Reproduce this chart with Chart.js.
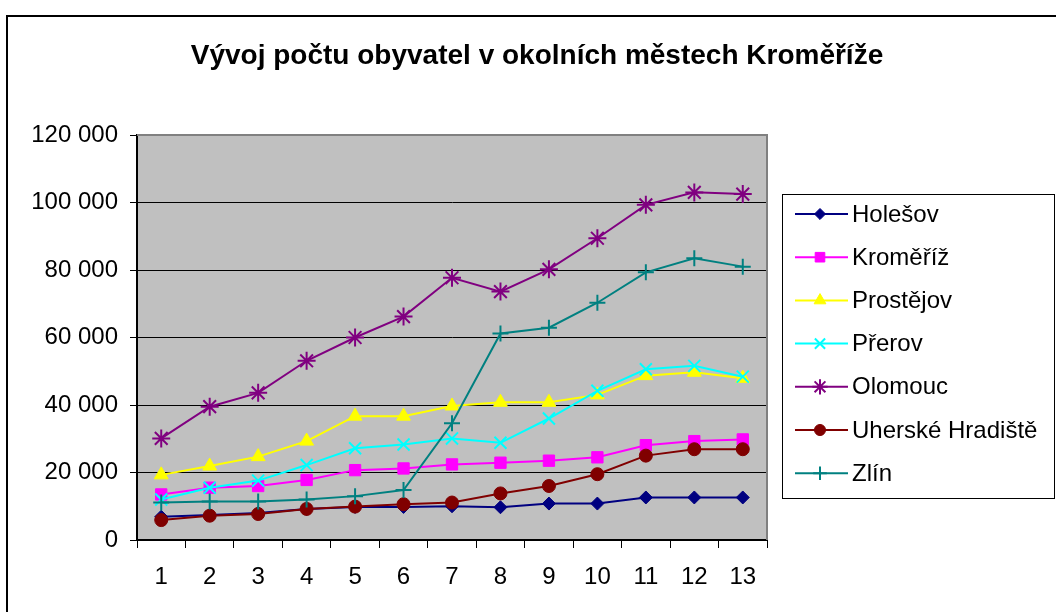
<!DOCTYPE html>
<html>
<head>
<meta charset="utf-8">
<script src="https://cdn.jsdelivr.net/npm/chart.js@4/dist/chart.umd.min.js"></script>
<style>
  html, body { margin: 0; padding: 0; background: #ffffff; }
  #wrap { width: 1056px; height: 612px; position: relative; }
</style>
</head>
<body>
<div id="wrap"><canvas id="c" width="1056" height="612"></canvas></div>
<script>
const titleText = 'Vývoj počtu obyvatel v okolních městech Kroměříže';
const categories = ['1','2','3','4','5','6','7','8','9','10','11','12','13'];
const yTickLabels = ['0','20 000','40 000','60 000','80 000','100 000','120 000'];

const seriesNames = ['Holešov','Kroměříž','Prostějov','Přerov','Olomouc','Uherské Hradiště','Zlín'];
const holesov    = [6900, 7400, 8000, 9200, 9800, 9800, 10000, 9700, 10800, 10800, 12600, 12600, 12600];
const kromeriz   = [13500, 15500, 16000, 17800, 20700, 21200, 22400, 22900, 23500, 24500, 28100, 29300, 29800];
const prostejov  = [19300, 21900, 24700, 29300, 36700, 36700, 39700, 40800, 40800, 43000, 48700, 49700, 47900];
const prerov     = [12000, 15500, 17600, 22200, 27200, 28300, 30100, 28800, 36000, 44200, 50600, 51600, 48400];
const olomouc    = [30100, 39500, 43600, 53100, 60000, 66200, 77700, 73600, 80200, 89400, 99300, 103000, 102500];
const uhHradiste = [5900, 7200, 7700, 9200, 9900, 10600, 11100, 13800, 16000, 19500, 25000, 26900, 26900];
const zlin       = [11100, 11400, 11400, 12000, 13000, 14800, 34600, 61200, 62900, 70300, 79300, 83500, 81000];

const seriesData = [holesov, kromeriz, prostejov, prerov, olomouc, uhHradiste, zlin];
const colors = ['#000080', '#FF00FF', '#FFFF00', '#00FFFF', '#800080', '#800000', '#008080'];
const styles = ['rectRot', 'rect', 'triangle', 'crossRot', 'star', 'circle', 'cross'];
const radii  = [6.5, 8, 8, 8.5, 9, 6.5, 8];
const bws    = [1, 1, 1, 2, 2, 1, 2];

const FONT = '"Liberation Sans", Arial, sans-serif';

const datasets = seriesNames.map((name, i) => ({
  label: name,
  data: seriesData[i],
  borderColor: colors[i],
  backgroundColor: colors[i],
  borderWidth: 2,
  pointStyle: styles[i],
  pointRadius: radii[i],
  pointHoverRadius: radii[i],
  pointBorderWidth: bws[i],
  pointBackgroundColor: colors[i],
  pointBorderColor: colors[i],
  tension: 0,
  order: seriesNames.length - i
}));

const decorPlugin = {
  id: 'decor',
  beforeDraw(chart) {
    const ctx = chart.ctx;
    const a = chart.chartArea;
    ctx.save();
    ctx.fillStyle = '#ffffff';
    ctx.fillRect(0, 0, chart.width, chart.height);
    ctx.fillStyle = '#C0C0C0';
    ctx.fillRect(a.left, a.top, a.right - a.left, a.bottom - a.top);
    ctx.restore();
  },
  afterDraw(chart) {
    const ctx = chart.ctx;
    const a = chart.chartArea;
    ctx.save();
    ctx.strokeStyle = '#808080';
    ctx.lineWidth = 2;
    ctx.beginPath();
    ctx.moveTo(a.left, a.top);
    ctx.lineTo(a.right, a.top);
    ctx.lineTo(a.right, a.bottom);
    ctx.stroke();
    ctx.strokeStyle = '#000000';
    ctx.lineWidth = 2;
    ctx.beginPath();
    ctx.moveTo(7, 700);
    ctx.lineTo(7, 16);
    ctx.lineTo(1100, 16);
    ctx.stroke();
    ctx.fillStyle = '#000000';
    ctx.font = 'bold 28px ' + FONT;
    ctx.textAlign = 'center';
    ctx.textBaseline = 'alphabetic';
    ctx.fillText(titleText, 537, 64);
    const lx = 782, ly = 194, lw = 272, lh = 304;
    ctx.fillStyle = '#ffffff';
    ctx.fillRect(lx, ly, lw, lh);
    ctx.strokeStyle = '#000000';
    ctx.lineWidth = 1;
    ctx.strokeRect(lx + 0.5, ly + 0.5, lw, lh);
    ctx.font = '24px ' + FONT;
    ctx.textAlign = 'left';
    ctx.textBaseline = 'middle';
    chart.data.datasets.forEach((ds, i) => {
      const y = 214 + i * 43.2;
      ctx.strokeStyle = ds.borderColor;
      ctx.lineWidth = 2;
      ctx.beginPath();
      ctx.moveTo(795, y);
      ctx.lineTo(848, y);
      ctx.stroke();
      ctx.fillStyle = ds.pointBackgroundColor;
      ctx.strokeStyle = ds.pointBorderColor;
      ctx.lineWidth = ds.pointBorderWidth;
      Chart.helpers.drawPoint(ctx, {
        pointStyle: ds.pointStyle,
        radius: ds.pointRadius * 0.85,
        rotation: 0,
        borderWidth: ds.pointBorderWidth
      }, 820, y);
      ctx.fillStyle = '#000000';
      ctx.fillText(ds.label, 852, y + 1);
    });
    ctx.restore();
  }
};

new Chart(document.getElementById('c'), {
  type: 'line',
  data: { labels: categories, datasets: datasets },
  options: {
    responsive: false,
    animation: false,
    devicePixelRatio: 1,
    layout: { padding: { left: 0, top: 135, right: 289, bottom: 0 } },
    plugins: {
      legend: { display: false },
      title: { display: false },
      tooltip: { enabled: false }
    },
    scales: {
      x: {
        type: 'category',
        offset: true,
        afterFit(s) { s.height = 72; },
        grid: {
          display: true,
          offset: true,
          drawOnChartArea: false,
          drawTicks: true,
          tickLength: 8,
          color: '#000000',
          lineWidth: 1
        },
        border: { display: true, color: '#000000', width: 2 },
        ticks: {
          color: '#000000',
          font: { family: FONT, size: 24 },
          padding: 15,
          maxRotation: 0,
          autoSkip: false
        }
      },
      y: {
        min: 0,
        max: 120000,
        afterFit(s) { s.width = 137; },
        afterBuildTicks(s) {
          s.ticks = yTickLabels.map((t, i) => ({ value: i * 20000 }));
        },
        grid: {
          color: (c) => (c.tick && c.tick.value === 120000) ? 'rgba(0,0,0,0)' : '#000000',
          lineWidth: 1,
          tickLength: 7,
          drawTicks: true,
          tickColor: '#000000'
        },
        border: { display: true, color: '#000000', width: 2 },
        ticks: {
          color: '#000000',
          font: { family: FONT, size: 24 },
          padding: 12,
          callback: (v, i) => yTickLabels[i]
        }
      }
    }
  },
  plugins: [decorPlugin]
});
</script>
</body>
</html>
